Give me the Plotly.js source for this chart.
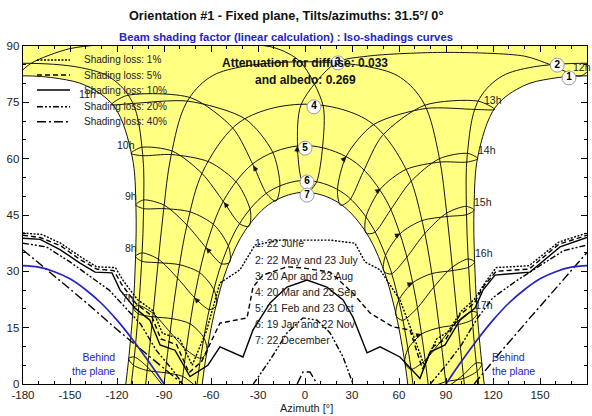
<!DOCTYPE html>
<html><head><meta charset="utf-8">
<script src="https://cdn.plot.ly/plotly-3.0.1.min.js"></script>
<style>html,body{margin:0;padding:0;background:#fff}#chart{width:592px;height:416px}</style>
</head><body><div id="chart"></div>
<script>
// ---------- Sun path (date) curves: azimuth [deg], sun height [deg] ----------
const junAmAz = [-114.4,-112.7,-109.8,-108.2,-107.9,-110.4,-121.7,-139.5,-156.7,-180,-203.3,-220.5];
const junAmAlt = [0,6.1,19.6,33.25,47.0,60.7,73.8,79.4,81.3,82.06,81.3,79.4];
const junPmAz = [220.5,203.3,180,156.7,139.5,121.7,110.4,107.9,108.2,109.8,112.7,114.4];
const junPmAlt = [79.4,81.3,82.06,81.3,79.4,73.8,60.7,47.0,33.25,19.6,6.1,0];
const mayAmAz = [-110.9,-109.4,-106.4,-104.2,-103.0,-103.6,-110.1,-123.9,-142.7,-180,-217.3];
const mayAmAlt = [0,5.3,19.0,33.0,47.0,61.1,75.0,81.5,84.2,85.4,84.2];
const mayPmAz = [217.3,180,142.7,123.9,110.1,103.6,103.0,104.2,106.4,109.4,110.9];
const mayPmAlt = [84.2,85.4,84.2,81.5,75.0,61.1,47.0,33.0,19.0,5.3,0];
const aprAz = [-101.7,-100.9,-97.3,-93.9,-90.3,-85.6,-75.8,-61.0,-41.4,0,41.4,61.0,75.8,85.6,90.3,93.9,97.3,100.9,101.7];
const aprAlt = [0,3.0,17.3,31.7,46.1,60.55,74.8,81.6,84.4,85.8,84.4,81.6,74.8,60.55,46.1,31.7,17.3,3.0,0];
const marAz = [-90,-85.9,-81.2,-75.0,-65.2,-45.1,-26.2,0,26.2,45.1,65.2,75.0,81.2,85.9,90];
const marAlt = [0,14.4,28.8,42.95,56.6,68.6,72.8,74.5,72.8,68.6,56.6,42.95,28.8,14.4,0];
const febAz = [-78.6,-75.1,-69.7,-62.0,-50.05,-30.1,0,30.1,50.05,62.0,69.7,75.1,78.6];
const febAlt = [0,11.2,25.0,38.2,50.2,59.6,63.5,59.6,50.2,38.2,25.0,11.2,0];
const janAz = [-68.9,-66.2,-60.5,-52.4,-40.4,-22.8,0,22.8,40.4,52.4,60.5,66.2,68.9];
const janAlt = [0,8.1,21.05,33.1,43.6,51.3,54.2,51.3,43.6,33.1,21.05,8.1,0];
const decAz = [-65.6,-63.25,-57.5,-49.4,-37.6,-20.9,0,20.9,37.6,49.4,57.5,63.25,65.6];
const decAlt = [0,7.0,19.6,31.3,41.25,48.4,51.06,48.4,41.25,31.3,19.6,7.0,0];

// ---------- Hour lines (legal time), Dec->Jan->Feb->...->Jun->...->Dec ----------
const h06Az = [-90.4,-100.5,-109.0,-112.55,-109.5,-100.8,-89.1,-78.0,-68.0];
const h06Alt = [-0.6,4.5,7.2,6.8,5.0,3.6,3.0,2.0,-1.2];
const h07Az = [-62.6,-66.6,-75.75,-86.1,-96.95,-106.1,-109.7,-106.5,-97.2,-84.9,-73.2,-64.4,-62.6];
const h07Alt = [8.4,6.85,9.1,13.8,18.8,20.9,20.3,18.7,17.9,17.4,16.0,12.2,8.4];
const h08Az = [-56.6,-61.0,-70.5,-81.4,-93.5,-104.0,-108.2,-104.25,-93.8,-79.9,-67.0,-57.9,-56.6];
const h08Alt = [20.9,19.8,23.0,28.2,33.2,34.9,34.0,32.7,32.3,31.75,29.6,24.9,20.9];
const h09Az = [-48.1,-53.2,-63.1,-75.3,-89.8,-103.1,-108.0,-103.0,-90.1,-73.0,-57.9,-48.6,-48.1];
const h09Alt = [32.4,32.0,36.3,42.3,47.6,49.0,47.7,46.7,46.7,45.8,42.3,36.4,32.4];
const h10Az = [-35.8,-41.5,-51.8,-65.6,-84.6,-104.5,-111.0,-103.6,-85.2,-61.0,-43.2,-34.8,-35.8];
const h10Alt = [42.0,42.6,48.4,56.0,62.0,63.0,61.4,60.8,61.1,59.1,53.45,46.0,42.0];
const h11Az = [-18.6,-24.4,-33.0,-46.0,-72.8,-113.9,-123.5,-110.0,-74.6,-38.2,-20.7,-16.0,-18.6];
const h11Alt = [48.7,50.6,58.2,68.1,76.2,76.8,74.4,74.7,75.3,70.6,61.8,52.8,48.7];
const h12Az = [2.4,-2.2,-4.8,-2.4,19.6,40,90,140,156.8,175.9,185.2,null,-184.1,-174.8,-150,-110,-60,-20,-3,11.5,11.2,7.5,2.4];
const h12Alt = [51.0,54.2,63.4,74.5,85.5,87.3,88.3,87.3,85.0,82.0,85.4,null,82.0,85.4,89.3,90.8,90.8,89.6,85.8,74.2,63.0,53.9,51.0];
const h13Az = [22.7,20.7,26.3,43.5,76.8,109.2,121.1,110.7,76.2,49.3,37.0,28.4,22.7];
const h13Alt = [47.6,51.6,60.6,69.0,73.35,73.1,73.1,75.3,74.2,66.1,56.35,48.9,47.6];
const h14Az = [38.9,38.8,48.3,64.3,86.1,103.5,110.3,103.8,85.8,67.2,54.2,44.2,38.9];
const h14Alt = [40.2,44.3,52.0,57.1,59.1,59.1,60.0,61.4,60.0,53.75,46.1,40.3,40.2];
const h15Az = [50.3,51.3,60.9,74.6,90.7,103.2,107.9,103.0,90.4,76.3,64.7,55.0,50.3];
const h15Alt = [30.0,34.1,40.1,43.5,44.6,45.1,46.3,47.3,45.5,40.0,33.6,29.3,30.0];
const h16Az = [58.1,59.7,68.9,80.9,94.25,104.5,108.3,104.2,94.0,82.2,71.6,62.3,58.1];
const h16Alt = [18.2,22.2,27.0,29.4,30.2,31.1,32.5,33.3,31.1,25.8,20.2,16.95,18.2];
const h17Az = [63.7,65.7,74.45,85.7,97.7,106.8,110.0,106.35,97.4,86.75,76.6,67.6,63.7];
const h17Alt = [5.6,9.3,13.3,15.0,15.8,17.1,18.9,19.3,16.7,11.4,6.3,3.9,5.6];
const h18Az = [79.5,89.8,101.3,109.9,112.9,109.3,101.0,91.0];
const h18Alt = [-1.0,0.6,1.5,3.4,5.4,5.6,2.4,-0.8];

// ---------- Iso-shading curves ----------
const iso01Az = [-180,-168,-156,-143,-133,-121,-116,-107,-97,-91,-80,-72,-63,-54.3,-41.5,-31.9,-16,16,31.9,38.3,47.9,60.6,70,76,84,91,100,108,115,122,143,162,180];
const iso01Alt = [40.2,39.8,37.5,33.8,31.2,31.0,27.5,22.5,19.5,13.5,12.0,5.0,14.0,26.9,30.4,37.0,38.3,38.3,37.5,32.5,30.4,22.4,12.0,5.0,12.0,13.8,19.5,22.5,27.0,31.0,31.5,37.8,40.2];
const iso05Az = [-180,-169,-156,-143,-133,-122,-117,-108,-98,-92,-82,-74,-66,-54.3,-37,-33.2,-26.8,-11.5,-1.3,16,30.6,41.5,56.2,67,75,82,90,99,108,114,122,143,162,180];
const iso05Alt = [39.6,39.0,36.8,33.0,30.6,30.2,26.5,21.5,18.2,12.0,10.5,3.0,6.0,16.2,17.6,25.8,29.0,31.2,30.9,29.8,24.2,18.9,15.2,14.4,4.0,10.0,12.0,18.5,21.5,26.0,30.0,30.6,37.2,39.6];
const iso10Az = [-180,-169,-156.4,-143.6,-134,-123.2,-118,-108.5,-99,-92.5,-83,-73.4,-62,-54.3,-39.6,-33.2,-22.3,-11.5,1.3,14,24.3,30.6,39.6,47.9,60.6,73.4,79.8,89.4,98.9,108.5,113.6,121.3,143.6,162.8,180];
const iso10Alt = [38.8,38.5,35.8,32.2,29.8,29.6,25.0,20.2,17.0,10.4,9.0,2.0,5.0,9.9,7.2,14.4,21.6,25.8,27.7,25.8,22.4,17.8,8.3,9.9,7.2,1.5,8.5,10.4,17.0,20.2,25.0,29.0,29.8,36.5,39.0];
const iso20Az = [-180,-165,-150,-135,-125,-115,-105,-95,-85,-78,null,-33,-22.3,-11.5,-1.3,7.7,16,24.3,30.6,null,80,90,100,110,120,135,150,165,180];
const iso20Alt = [37.5,36.5,32.5,28.0,25.0,20.5,16.0,9.0,4.0,0,null,0,6.4,13.6,17.6,17.0,13.6,7.2,0,null,0,5.0,10.5,17.5,23.0,27.5,31.5,35.5,37.0];
const iso40Az = [-180,-160,-140,-120,-100,-78,null,-5,-1.3,3.2,7.7,null,108,125,143.6,162,180];
const iso40Alt = [35.7,28.8,21.8,14.5,7.5,0,null,0,3.2,3.2,0,null,0,8.6,17.6,26.5,35.0];

// ---------- "Behind the plane" limit ----------
const behindAz = [-180,-170,-160,-150,-140,-130,-120,-110,-100,-90,null,90,100,110,120,130,140,150,160,170,180];
const behindAlt = [31.5,31.1,29.9,28.0,25.1,21.5,17.0,11.8,6.1,0,null,0,6.1,11.8,17.0,21.5,25.1,28.0,29.9,31.1,31.5];

const xTicks = [-180,-150,-120,-90,-60,-30,0,30,60,90,120,150,180];
const yTicks = [0,15,30,45,60,75,90];
const lossNames = ['Shading loss: 1%','Shading loss: 5%','Shading loss: 10%','Shading loss: 20%','Shading loss: 40%'];
const dateList = ['1: 22 June','2: 22 May and 23 July','3: 20 Apr and 23 Aug','4: 20 Mar and 23 Sep','5: 21 Feb and 23 Oct','6: 19 Jan and 22 Nov','7: 22 December'];
const hourLabels = ['7h','8h','9h','10h','11h','12h','13h','14h','15h','16h','17h'];

// ---------- build traces ----------
const traces = [];
const ink = '#141414';
const fillX = [...junAmAz].reverse().concat([-116.4,-68], decAz, [68,116.4], [...junPmAz].reverse(), [240,-240]);
const fillY = [...junAmAlt].reverse().concat([-7,-7], decAlt, [-7,-7], [...junPmAlt].reverse(), [115,115]);
traces.push({x:fillX,y:fillY,mode:'lines',fill:'toself',fillcolor:'#ffff82',line:{width:0,shape:'spline'},hoverinfo:'skip',showlegend:false});

const dateCurves = [[junAmAz,junAmAlt],[junPmAz,junPmAlt],[mayAmAz,mayAmAlt],[mayPmAz,mayPmAlt],[aprAz,aprAlt],[marAz,marAlt],[febAz,febAlt],[janAz,janAlt],[decAz,decAlt]];
dateCurves.forEach(c=>traces.push({x:c[0],y:c[1],mode:'lines',line:{color:ink,width:1,shape:'spline'},hoverinfo:'skip',showlegend:false}));
const hourCurves = [[h06Az,h06Alt],[h07Az,h07Alt],[h08Az,h08Alt],[h09Az,h09Alt],[h10Az,h10Alt],[h11Az,h11Alt],[h12Az,h12Alt],[h13Az,h13Alt],[h14Az,h14Alt],[h15Az,h15Alt],[h16Az,h16Alt],[h17Az,h17Alt],[h18Az,h18Alt]];
hourCurves.forEach(c=>traces.push({x:c[0],y:c[1],mode:'lines',line:{color:ink,width:1,shape:'spline',smoothing:0.8},connectgaps:false,hoverinfo:'skip',showlegend:false}));

const dashes = ['2px,1.5px','5px,3px','solid','6px,2px,2px,2px,2px,2px','9px,3px,2px,3px'];
const isoCurves = [[iso01Az,iso01Alt],[iso05Az,iso05Alt],[iso10Az,iso10Alt],[iso20Az,iso20Alt],[iso40Az,iso40Alt]];
isoCurves.forEach((c,i)=>traces.push({x:c[0],y:c[1],mode:'lines',name:lossNames[i],line:{color:'#000',width:1.4,dash:dashes[i]},connectgaps:false,hoverinfo:'skip',showlegend:false}));

traces.push({x:behindAz,y:behindAlt,mode:'lines',line:{color:'#2323c8',width:1.7,shape:'spline'},connectgaps:false,hoverinfo:'skip',showlegend:false});

traces.push({x:[168.5,161,21,5.7,0,1.3,1.3],y:[81.5,84.9,85.5,73.8,62.8,53.8,50.3],mode:'markers+text',text:['1','2','3','4','5','6','7'],
  textposition:'middle center',textfont:{family:'Liberation Sans, Arial, sans-serif',size:10,color:'#000',weight:'bold'},
  marker:{size:14,color:'#fff',line:{color:'#9a9a9a',width:1}},cliponaxis:false,hoverinfo:'skip',showlegend:false});

// ---------- annotations ----------
const ann = [];
const F = 'Liberation Sans, Arial, sans-serif';
ann.push({xref:'paper',yref:'paper',x:0.468,y:1.0888,text:'<b>Orientation #1 - Fixed plane, Tilts/azimuths: 31.5°/ 0°</b>',showarrow:false,font:{family:F,size:12.7,color:'#111'},xanchor:'center',yanchor:'middle'});
ann.push({xref:'paper',yref:'paper',x:0.466,y:1.0266,text:'<b>Beam shading factor (linear calculation) : Iso-shadings curves</b>',showarrow:false,font:{family:F,size:11.3,color:'#2424c8'},xanchor:'center',yanchor:'middle'});
ann.push({xref:'paper',yref:'paper',x:0.502,y:-0.071,text:'Azimuth [°]',showarrow:false,font:{family:F,size:11,color:'#222'},xanchor:'center',yanchor:'middle'});
ann.push({xref:'x',yref:'y',x:0,y:85.5,text:'<b>Attenuation for diffuse: 0.033</b>',showarrow:false,font:{family:F,size:12,color:'#111'},xanchor:'center',yanchor:'middle'});
ann.push({xref:'x',yref:'y',x:0,y:81.0,text:'<b>and albedo: 0.269</b>',showarrow:false,font:{family:F,size:12,color:'#111'},xanchor:'center',yanchor:'middle'});
const hourPos = [[-113,22.9],[-111,36.2],[-111,50],[-114.3,63.6],[-139,77.3],[176.8,84.4],[120,75.6],[116,62.3],[113.6,48.5],[114.3,34.9],[114.3,21]];
hourLabels.forEach((t,i)=>ann.push({xref:'x',yref:'y',x:hourPos[i][0],y:hourPos[i][1],text:t,showarrow:false,font:{family:F,size:10.5,color:'#222'},xanchor:'center',yanchor:'middle'}));
const listAlt = [37.46,33.0,28.75,24.57,20.15,15.97,11.7];
dateList.forEach((t,i)=>ann.push({xref:'x',yref:'y',x:-33.2,y:listAlt[i],text:t,showarrow:false,font:{family:F,size:10.5,color:'#1a1a1a'},xanchor:'left',yanchor:'middle'}));
ann.push({xref:'x',yref:'y',x:-120,y:5.2,text:'Behind<br>the plane',align:'right',showarrow:false,font:{family:F,size:10.5,color:'#2323c8'},xanchor:'right',yanchor:'middle'});
ann.push({xref:'x',yref:'y',x:118,y:5.2,text:'Behind<br>the plane',align:'left',showarrow:false,font:{family:F,size:10.5,color:'#2323c8'},xanchor:'left',yanchor:'middle'});

// direction arrows on the Jan->Jun branch of hour lines (at the February point, pointing toward March)
const arrowHours = [hourCurves[2],hourCurves[3],hourCurves[4],hourCurves[5],hourCurves[6],hourCurves[7],hourCurves[8],hourCurves[9],hourCurves[10],hourCurves[11]];
const pxX = 564/360, pxY = 338/90;
arrowHours.forEach(c=>{
  const fx=c[0][2], fy=c[1][2], mx=c[0][3], my=c[1][3];
  let dx=(mx-fx)*pxX, dy=-(my-fy)*pxY; const n=Math.hypot(dx,dy); dx/=n; dy/=n;
  ann.push({xref:'x',yref:'y',x:fx,y:fy,text:'',showarrow:true,arrowhead:2,arrowsize:1.1,arrowwidth:1,arrowcolor:ink,ax:-8*dx,ay:-8*dy,standoff:0});
});

const legY = [0.9586,0.9142,0.8698,0.8204,0.7760];
const shapes = [];
lossNames.forEach((t,i)=>{
  shapes.push({type:'line',xref:'paper',yref:'paper',x0:0.0248,x1:0.0833,y0:legY[i],y1:legY[i],line:{color:'#000',width:1.6,dash:dashes[i]}});
  ann.push({xref:'paper',yref:'paper',x:0.1046,y:legY[i],text:t,showarrow:false,font:{family:F,size:10,color:'#222'},xanchor:'left',yanchor:'middle'});
});

const axisCommon = {showline:true,linecolor:'#000',linewidth:1.3,mirror:'ticks',ticks:'inside',ticklen:6,tickwidth:1,tickcolor:'#000',
  showgrid:false,zeroline:false,tickfont:{family:F,size:11.5,color:'#222'},fixedrange:true};
const layout = {
  width:592,height:416,margin:{l:23,r:5,t:46,b:32},
  paper_bgcolor:'#fff',plot_bgcolor:'#fff',showlegend:false,
  font:{family:F,size:11,color:'#222'},
  xaxis:Object.assign({},axisCommon,{range:[-180,180],tickmode:'array',tickvals:xTicks,ticktext:xTicks.map(String),
    minor:{ticks:'inside',ticklen:3,tickmode:'linear',tick0:0,dtick:10,tickcolor:'#000',showgrid:false}}),
  yaxis:Object.assign({},axisCommon,{range:[0,90],tickmode:'array',tickvals:yTicks,ticktext:yTicks.map(String),
    minor:{ticks:'inside',ticklen:3,tickmode:'linear',tick0:0,dtick:5,tickcolor:'#000',showgrid:false}}),
  annotations:ann,shapes:shapes
};
Plotly.newPlot('chart',traces,layout,{displayModeBar:false,staticPlot:true});
</script></body></html>
